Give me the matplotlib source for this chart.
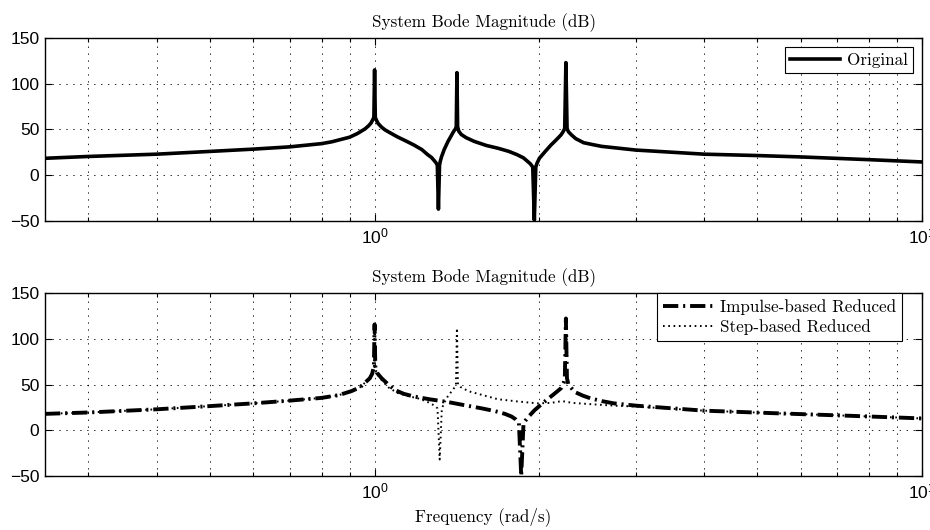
import numpy as np
import matplotlib
matplotlib.use('Agg')
import matplotlib.pyplot as plt
from matplotlib.ticker import LogLocator, FixedLocator, NullFormatter

# data
freq_orig = [0.25, 0.3, 0.4, 0.5, 0.6, 0.7, 0.8, 0.835, 0.9, 0.93, 0.96, 0.975, 0.985, 0.997,
             1.0, 1.003, 1.008, 1.015, 1.03, 1.045, 1.07, 1.10, 1.14, 1.18, 1.22, 1.25, 1.27,
             1.285, 1.295, 1.302, 1.308, 1.314, 1.318, 1.325, 1.34, 1.362, 1.38, 1.395, 1.405,
             1.41, 1.414, 1.418, 1.425, 1.44, 1.47, 1.52, 1.6, 1.68, 1.76, 1.82, 1.87, 1.90,
             1.925, 1.945, 1.958, 1.97, 1.98, 2.0, 2.05, 2.1, 2.15, 2.19, 2.21, 2.225, 2.236,
             2.247, 2.26, 2.285, 2.33, 2.41, 2.5, 2.6, 3.0, 4.0, 5.0, 6.0, 8.0, 10.0]
mag_orig = [18.5, 20.5, 23, 26, 28.5, 31, 34.5, 36.5, 41.5, 45.5, 50.5, 54, 57, 63,
            115, 63, 60, 56.5, 52.5, 49.5, 46, 42, 37.5, 33, 28, 22.5, 19.5,
            16, 13.5, 11, -37, 11, 15, 20, 28, 37, 43, 48, 50.5,
            53, 112, 53, 48, 44.5, 41, 37, 32.5, 29.5, 26, 22.5, 19, 15.5,
            12.5, 9, -49, 9, 13, 18.5, 26, 33, 39, 44, 47.5, 51, 123,
            51, 47.5, 44.5, 40, 35.5, 33.5, 31.5, 27.5, 23, 21.5, 20, 17, 14.5]

freq_imp = [0.25, 0.3, 0.4, 0.5, 0.6, 0.7, 0.8, 0.86, 0.908, 0.94, 0.96, 0.98, 0.99, 0.997,
            1.0, 1.003, 1.01, 1.03, 1.06, 1.09, 1.13, 1.18, 1.26, 1.36, 1.46, 1.57, 1.66, 1.73,
            1.78, 1.81, 1.835, 1.853, 1.871, 1.905, 1.96, 2.04, 2.12, 2.19, 2.215, 2.226,
            2.236, 2.246, 2.26, 2.32, 2.4, 2.48, 2.6, 2.735, 3.0, 4.0, 5.5, 7.3, 10.0]
mag_imp = [18, 19.5, 23, 26.5, 29.5, 32.5, 35.5, 38.5, 43, 47, 52, 57, 62, 70,
           116, 70, 63, 57, 50, 44, 40, 37, 34, 31, 27.5, 24, 21, 18,
           15, 12, 8, -50, 8, 14, 22, 31, 39, 46, 52, 57,
           122.5, 57, 50, 42, 38, 35, 32, 29.5, 27, 21.5, 18.5, 16, 13]

freq_step = [0.25, 0.3, 0.4, 0.5, 0.6, 0.7, 0.8, 0.86, 0.908, 0.94, 0.96, 0.98, 0.99, 0.997,
             1.0, 1.003, 1.01, 1.03, 1.06, 1.10, 1.15, 1.2, 1.24, 1.27, 1.29, 1.303, 1.315,
             1.327, 1.343, 1.36, 1.38, 1.398, 1.408, 1.414, 1.42, 1.435, 1.46, 1.5, 1.566,
             1.68, 1.83, 1.985, 2.1, 2.2, 2.3, 2.5, 2.735, 3.0, 4.0, 5.5, 7.3, 10.0]
mag_step = [18, 19.5, 23, 26.5, 29.5, 32.5, 35.5, 38.5, 43, 47, 52, 57, 62, 68,
            114, 68, 62, 55, 47, 41, 37.5, 35, 32, 29, 26.5, 24, -32,
            24, 31, 37, 42, 46.5, 50, 112, 50, 47.5, 45, 42, 39,
            34, 31.5, 29.5, 30, 32, 30, 28.5, 27, 26, 21.5, 18.5, 16, 13]

TITLE = 'System Bode Magnitude (dB)'
SERIF = 'cmr10'
TICKFONT = 'Liberation Sans'
SERIF_SIZE = 12.3

plt.rcParams['lines.scale_dashes'] = False
plt.rcParams['axes.unicode_minus'] = True

fig = plt.figure(figsize=(9.3, 5.3), dpi=100)
ax1 = fig.add_axes([0.0484, 0.583, 0.943, 0.3455])
ax2 = fig.add_axes([0.0484, 0.102, 0.943, 0.3445])


def style_axes(ax):
    ax.set_xscale('log')
    ax.set_xlim(0.25, 10)
    ax.set_ylim(-50, 150)
    ax.yaxis.set_major_locator(FixedLocator([-50, 0, 50, 100, 150]))
    ax.xaxis.set_major_locator(FixedLocator([1, 10]))
    ax.xaxis.set_minor_locator(LogLocator(base=10, subs=np.arange(2, 10)))
    ax.xaxis.set_minor_formatter(NullFormatter())
    ax.set_xticklabels([r'$\mathregular{10^{0}}$', r'$\mathregular{10^{1}}$'])
    ax.tick_params(which='both', direction='in', top=True, right=True,
                   labelsize=12.5, width=0.8)
    ax.tick_params(which='major', length=5, pad=4)
    ax.tick_params(which='minor', length=3)
    for lab in ax.get_xticklabels() + ax.get_yticklabels():
        lab.set_fontfamily(TICKFONT)
    ax.grid(True, which='major', axis='both', color='black', linestyle=(0, (1, 4)), linewidth=0.6)
    ax.grid(True, which='minor', axis='x', color='black', linestyle=(0, (1, 4)), linewidth=0.6)
    for s in ax.spines.values():
        s.set_linewidth(1.0)
    ax.set_title(TITLE, fontfamily=SERIF, fontsize=SERIF_SIZE, pad=8)


# 上图：原系统
style_axes(ax1)
ax1.plot(freq_orig, mag_orig, color='black', linewidth=2.6, label='Original',
         solid_joinstyle='round')
leg1 = ax1.legend(loc='upper right', fancybox=False, edgecolor='black', framealpha=1,
                  prop={'family': SERIF, 'size': SERIF_SIZE}, handlelength=2.9,
                  borderaxespad=0.55, borderpad=0.3, handletextpad=0.4)
leg1.get_frame().set_linewidth(0.8)

# 下图：降阶模型
style_axes(ax2)
ax2.plot(freq_imp, mag_imp, color='black', linewidth=2.8, linestyle=(0, (11, 3.5, 1.5, 3.5)),
         label='Impulse-based Reduced')
ax2.plot(freq_step, mag_step, color='black', linewidth=1.4, linestyle=(0, (1.2, 2.6)),
         label='Step-based Reduced')
leg2 = ax2.legend(loc='upper right', bbox_to_anchor=(0.977, 1.0), fancybox=False,
                  edgecolor='black', framealpha=1, prop={'family': SERIF, 'size': SERIF_SIZE},
                  handlelength=2.9, borderaxespad=0.0, borderpad=0.35, handletextpad=0.4,
                  labelspacing=0.25)
leg2.get_frame().set_linewidth(0.8)
ax2.set_xlabel('Frequency (rad/s)', fontfamily=SERIF, fontsize=SERIF_SIZE, labelpad=4)

fig.savefig('out.png', dpi=100)
